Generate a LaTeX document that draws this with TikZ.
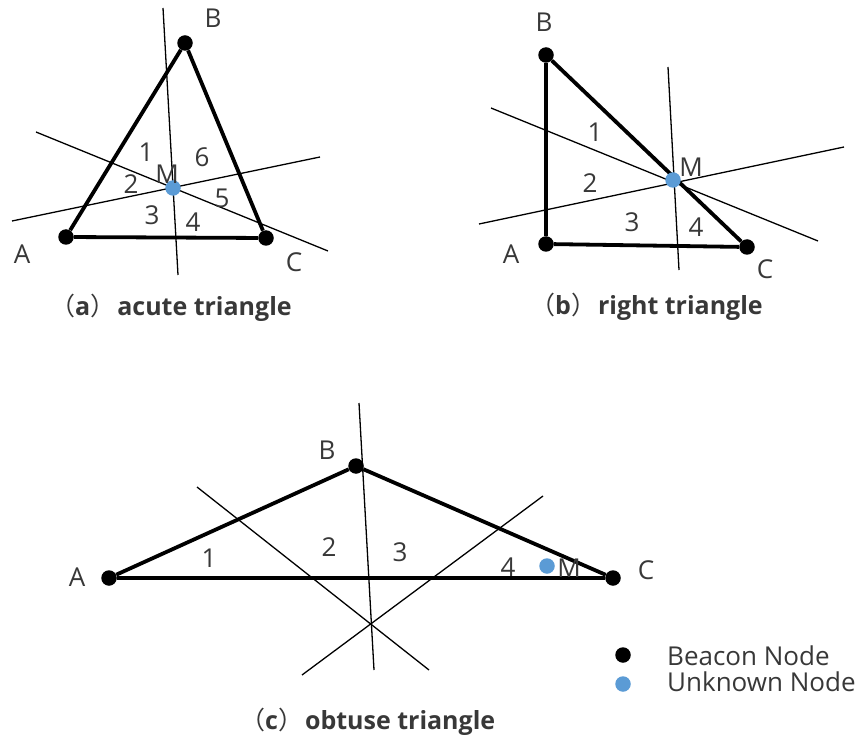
\documentclass[tikz,border=0pt]{standalone}
\usepackage{fontspec}
\newfontfamily\labelfont{Open Sans}
\newfontfamily\cjk{Noto Sans CJK SC}
\definecolor{unknownblue}{RGB}{91,155,213}
\definecolor{textgray}{RGB}{56,56,56}

\begin{document}
\begin{tikzpicture}[x=1pt, y=-1pt,
            beacon/.style={circle, fill=black, inner sep=0pt, minimum size=15.5pt},
            unknown/.style={circle, fill=unknownblue, inner sep=0pt, minimum size=15.5pt},
            edge/.style={line width=3.8pt, black},
            bisector/.style={line width=1.3pt, black},
            lbl/.style={text=textgray, font=\labelfont\fontsize{26}{30}\selectfont, inner sep=0pt},
            caption/.style={text=textgray, font=\labelfont\bfseries\fontsize{25}{30}\selectfont, anchor=base west, inner sep=0pt}
        ]
        \useasboundingbox (0,0) rectangle (859,735);

        % (a) acute triangle
        \node[beacon] (A1) at (66,237) {};
        \node[beacon] (B1) at (185,43) {};
        \node[beacon] (C1) at (266,238) {};
        \draw[edge] (A1) -- (B1) -- (C1) -- (A1);
        \coordinate (a1s) at (163,8);   \coordinate (a1e) at (178,275);
        \coordinate (a2s) at (36,132);  \coordinate (a2e) at (328,251);
        \coordinate (a3s) at (12,221);  \coordinate (a3e) at (320,157);
        \draw[bisector] (a1s) -- (a1e);
        \draw[bisector] (a2s) -- (a2e);
        \draw[bisector] (a3s) -- (a3e);
        \node[unknown] (M1) at (173,188) {};
        \node[lbl] (A1lbl) at (22,254) {A};
        \node[lbl] (B1lbl) at (213,18) {B};
        \node[lbl] (C1lbl) at (294,262) {C};
        \node[lbl] (M1lbl) at (167,174) {M};
        \node[lbl] (r11) at (146,152) {1};
        \node[lbl] (r12) at (131,184) {2};
        \node[lbl] (r13) at (152,215) {3};
        \node[lbl] (r14) at (193,222) {4};
        \node[lbl] (r15) at (222,198) {5};
        \node[lbl] (r16) at (202,157) {6};
        \node[caption] (cap1) at (50,316) {{\cjk\mdseries （}a{\cjk\mdseries ）}\hspace{2pt}acute triangle};

        % (b) right triangle
        \node[beacon] (A2) at (546,244) {};
        \node[beacon] (B2) at (546,55) {};
        \node[beacon] (C2) at (747,247) {};
        \draw[edge] (A2) -- (B2) -- (C2) -- (A2);
        \coordinate (b1s) at (668,67);  \coordinate (b1e) at (679,270);
        \coordinate (b2s) at (491,108); \coordinate (b2e) at (818,241);
        \coordinate (b3s) at (479,224); \coordinate (b3e) at (844,147);
        \draw[bisector] (b1s) -- (b1e);
        \draw[bisector] (b2s) -- (b2e);
        \draw[bisector] (b3s) -- (b3e);
        \node[unknown] (M2) at (673,180) {};
        \node[lbl] (A2lbl) at (511,254) {A};
        \node[lbl] (B2lbl) at (544,22) {B};
        \node[lbl] (C2lbl) at (765,269) {C};
        \node[lbl] (M2lbl) at (691,167) {M};
        \node[lbl] (r21) at (595,132) {1};
        \node[lbl] (r22) at (590,183) {2};
        \node[lbl] (r23) at (632,222) {3};
        \node[lbl] (r24) at (696,227) {4};
        \node[caption] (cap2) at (530,314) {{\cjk\mdseries （}b{\cjk\mdseries ）}\hspace{2pt}right triangle};

        % (c) obtuse triangle
        \node[beacon] (A3) at (109,578) {};
        \node[beacon] (B3) at (356,466) {};
        \node[beacon] (C3) at (613,578) {};
        \draw[edge] (A3) -- (B3) -- (C3) -- (A3);
        \coordinate (c1s) at (359,403); \coordinate (c1e) at (374,670);
        \coordinate (c2s) at (197,487); \coordinate (c2e) at (429,670);
        \coordinate (c3s) at (302,675); \coordinate (c3e) at (543,496);
        \draw[bisector] (c1s) -- (c1e);
        \draw[bisector] (c2s) -- (c2e);
        \draw[bisector] (c3s) -- (c3e);
        \node[unknown] (M3) at (547,566) {};
        \node[lbl] (A3lbl) at (77,577) {A};
        \node[lbl] (B3lbl) at (327,450) {B};
        \node[lbl] (C3lbl) at (646,570) {C};
        \node[lbl] (M3lbl) at (569,568) {M};
        \node[lbl] (r31) at (209,558) {1};
        \node[lbl] (r32) at (329,547) {2};
        \node[lbl] (r33) at (400,552) {3};
        \node[lbl] (r34) at (508,567) {4};
        \node[caption] (cap3) at (240,729) {{\cjk\mdseries （}c{\cjk\mdseries ）}\hspace{2pt}obtuse triangle};

        % legend
        \node[beacon] (leg1) at (623,655) {};
        \node[unknown] (leg2) at (623,684) {};
        \node[lbl, anchor=west] (leg1txt) at (667,656) {Beacon Node};
        \node[lbl, anchor=west] (leg2txt) at (667,682) {Unknown Node};
        \end{tikzpicture}
\end{document}
